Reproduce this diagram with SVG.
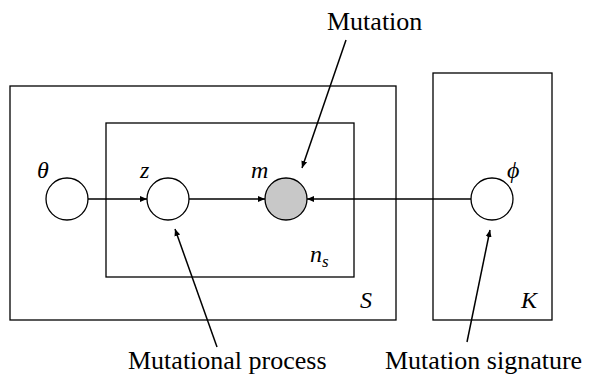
<svg xmlns="http://www.w3.org/2000/svg" width="594" height="376" viewBox="0 0 594 376" font-family="'Liberation Serif', 'Times New Roman', serif">
<defs>
<marker id="ah" markerWidth="8" markerHeight="8" refX="7" refY="4" orient="auto" markerUnits="userSpaceOnUse">
<path d="M0,1 L7,4 L0,7 Z" fill="#000"/>
</marker>
<style>
.plate{fill:none;stroke:#000;stroke-width:1.3}
.node{fill:#fff;stroke:#000;stroke-width:1.3}
.obs{fill:#c8c8c8;stroke:#000;stroke-width:1.3}
.edge{stroke:#000;stroke-width:1.5;fill:none}
</style>
</defs>
<rect width="594" height="376" fill="#fff"/>
<g id="plate-S"><rect class="plate" x="10" y="86" width="386" height="234"/></g>
<g id="plate-ns"><rect class="plate" x="106" y="123" width="248" height="154"/></g>
<g id="plate-K"><rect class="plate" x="433" y="73" width="119" height="247"/></g>
<g id="connectors">
<line class="edge" x1="88" y1="199" x2="147" y2="199" marker-end="url(#ah)"/>
<line class="edge" x1="189" y1="199" x2="265" y2="199" marker-end="url(#ah)"/>
<line class="edge" x1="471" y1="199" x2="307" y2="199" marker-end="url(#ah)"/>
<line class="edge" x1="346" y1="40" x2="302" y2="168" marker-end="url(#ah)"/>
<line class="edge" x1="217" y1="347" x2="175" y2="229" marker-end="url(#ah)"/>
<line class="edge" x1="467" y1="342" x2="490" y2="230" marker-end="url(#ah)"/>
</g>
<g id="node-theta"><circle class="node" cx="67" cy="199" r="21"/></g>
<g id="node-z"><circle class="node" cx="168" cy="199" r="21"/></g>
<g id="node-m"><circle class="obs" cx="286" cy="199" r="21"/></g>
<g id="node-phi"><circle class="node" cx="492" cy="199" r="21"/></g>
<text x="37" y="178" font-style="italic" font-size="24">θ</text>
<text x="140" y="178" font-style="italic" font-size="24">z</text>
<text x="251" y="178" font-style="italic" font-size="24">m</text>
<text x="507" y="178" font-style="italic" font-size="24">ϕ</text>
<text x="310" y="262" font-style="italic" font-size="24">n<tspan font-size="17" dy="5">s</tspan></text>
<text x="360" y="308" font-style="italic" font-size="24">S</text>
<text x="521" y="308" font-style="italic" font-size="24">K</text>
<text x="327" y="30" font-size="26">Mutation</text>
<text x="128" y="369" font-size="26">Mutational process</text>
<text x="385" y="369" font-size="26">Mutation signature</text>
</svg>
